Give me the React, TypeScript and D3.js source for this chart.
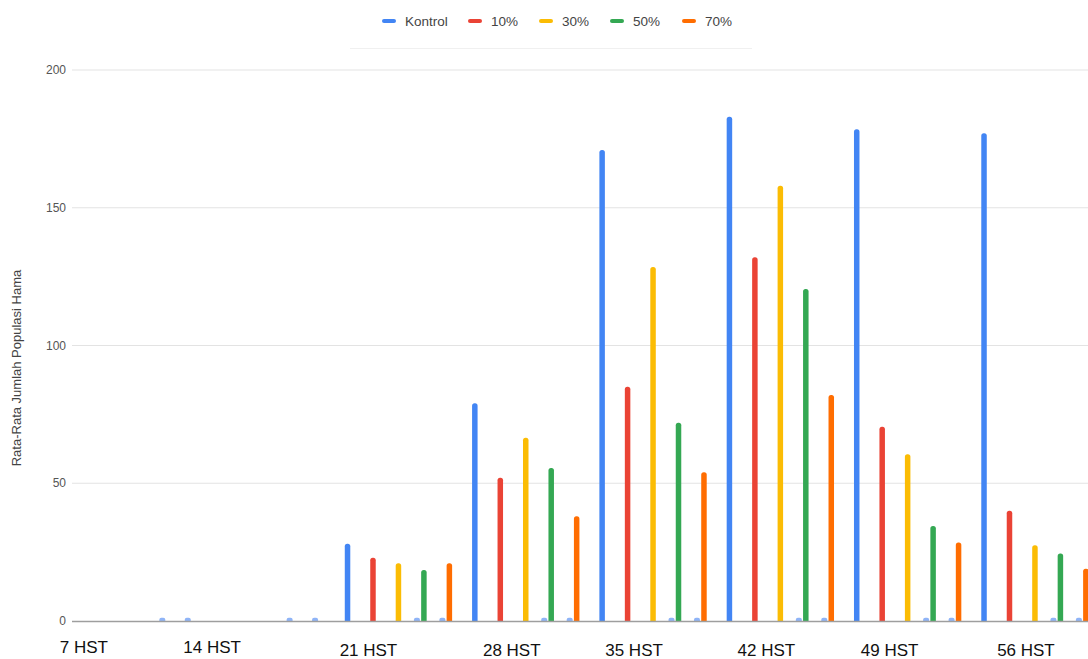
import React from 'react';
import * as d3 from 'd3';

// ---------- data ----------
const categories = ['7 HST', '14 HST', '21 HST', '28 HST', '35 HST', '42 HST', '49 HST', '56 HST'];
const seriesNames = ['Kontrol', '10%', '30%', '50%', '70%'];
const kontrol = [0, 0, 28, 79, 171, 183, 178.5, 177];
const p10 = [0, 0, 23, 52, 85, 132, 70.5, 40];
const p30 = [0, 0, 21, 66.5, 128.5, 158, 60.5, 27.5];
const p50 = [0, 0, 18.5, 55.5, 72, 120.5, 34.5, 24.5];
const p70 = [0, 0, 21, 38, 54, 82, 28.5, 19];
// tiny near-zero blue marks that appear beside the 50% and 70% bars
const residualA = [0.8, 0.8, 0.8, 0.8, 0.8, 0.8, 0.8, 0.8];
const residualB = [0.8, 0.8, 0.8, 0.8, 0.8, 0.8, 0.8, 0.8];
const yTicks = [0, 50, 100, 150, 200];
const yTitle = 'Rata-Rata Jumlah Populasi Hama';

const seriesValues = [kontrol, p10, p30, p50, p70];
const colors = ['#4285f4', '#ea4335', '#fbbc04', '#34a853', '#ff6d01'];

// ---------- layout ----------
const W = 1088;
const H = 659;
const plotLeft = 72;
const plotTop = 70;
const plotBottom = 621;
const groupStart = 80.2;
const groupEnd = 1098.6;
const barW = 5.5;
const labelOffsets = [-60, -59, -30, -14, -19, -14, -18, -9];
const labelBaselines = [653, 653, 656, 656, 656, 656, 656, 656];
const legendSwatchX = [382, 468, 539, 610, 682];

export default function App() {
  const x = d3.scaleBand<string>().domain(categories).range([groupStart, groupEnd]).paddingInner(0).paddingOuter(0);
  const xs = d3.scaleBand<string>().domain(seriesNames).range([0, x.bandwidth()]).padding(0);
  const y = d3.scaleLinear().domain([0, 200]).range([plotBottom, plotTop]);

  const barCenter = (cat: string, s: string) => (x(cat) as number) + (xs(s) as number) + xs.bandwidth() / 2;

  return (
    <svg width={W} height={H} style={{ position: 'absolute', left: 0, top: 0, background: '#fff' }}
      fontFamily="'Liberation Sans', Arial, sans-serif">
      <defs>
        <clipPath id="plotClip">
          <rect x={plotLeft} y={0} width={W - plotLeft} height={plotBottom} />
        </clipPath>
      </defs>

      {/* legend */}
      <g>
        {seriesNames.map((s, i) => (
          <g key={s}>
            <rect x={legendSwatchX[i]} y={19} width={14} height={4} rx={2} fill={colors[i]} />
            <text x={legendSwatchX[i] + 23} y={25.5} fontSize={13.5} fill="#444">{s}</text>
          </g>
        ))}
        <line x1={350} x2={752} y1={48.5} y2={48.5} stroke="#f0f0f0" strokeWidth={1} />
      </g>

      {/* gridlines & y ticks */}
      {yTicks.map((t) => (
        <g key={t}>
          {t !== 0 && (
            <line x1={plotLeft} x2={W} y1={y(t)} y2={y(t)} stroke="#e3e3e3" strokeWidth={1} />
          )}
          <text x={66} y={y(t) + 4} fontSize={12} fill="#555" textAnchor="end">{t}</text>
        </g>
      ))}

      {/* y title */}
      <text transform={`translate(21, 368) rotate(-90)`} fontSize={13} fill="#444" textAnchor="middle">{yTitle}</text>

      {/* bars */}
      <g clipPath="url(#plotClip)">
        {categories.map((c, gi) => (
          <g key={c}>
            {seriesNames.map((s, si) => {
              const v = seriesValues[si][gi];
              if (v <= 0) return null;
              const cx = barCenter(c, s);
              return (
                <rect key={s} x={cx - barW / 2} y={y(v)} width={barW} height={plotBottom - y(v) + 4}
                  rx={2.5} fill={colors[si]} />
              );
            })}
            {[residualA[gi], residualB[gi]].map((v, k) => {
              const cx = barCenter(c, seriesNames[3 + k]) - 7;
              return (
                <rect key={'r' + k} x={cx - 3} y={y(v) - 1} width={6} height={plotBottom - y(v) + 4}
                  rx={2} fill="#8fb4f7" />
              );
            })}
          </g>
        ))}
      </g>

      {/* baseline */}
      <line x1={plotLeft} x2={W} y1={plotBottom + 0.5} y2={plotBottom + 0.5} stroke="#9e9e9e" strokeWidth={1.5} />

      {/* x labels */}
      {categories.map((c, i) => (
        <text key={c} x={(x(c) as number) + x.bandwidth() / 2 + labelOffsets[i]} y={labelBaselines[i]}
          fontSize={17} fill="#111" textAnchor="middle">{c}</text>
      ))}
    </svg>
  );
}
